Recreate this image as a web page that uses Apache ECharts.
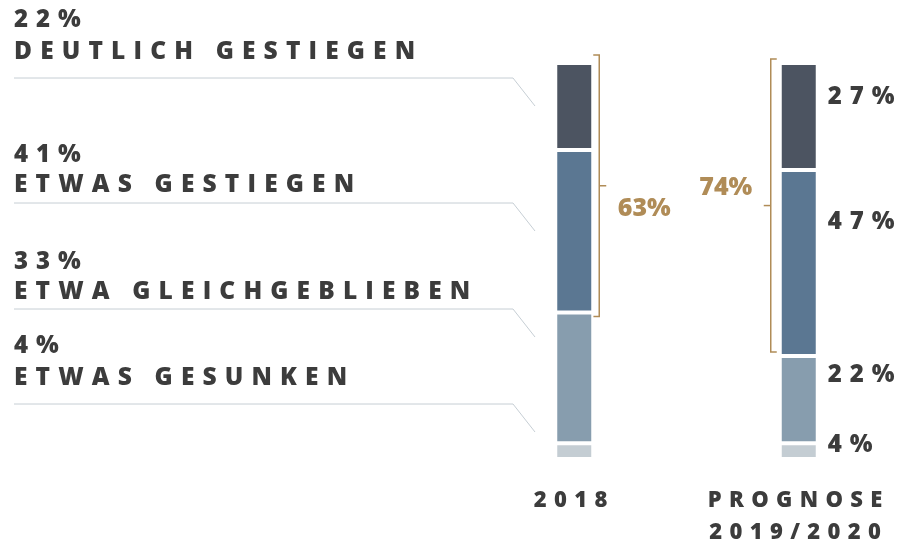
<!DOCTYPE html>
<html>
<head>
    <meta charset="utf-8">
    <title>Umsatzentwicklung</title>
    <script src="https://cdn.jsdelivr.net/npm/echarts@6/dist/echarts.min.js"></script>
    <style>
        html, body { margin: 0; padding: 0; background: #fff; }
        #chart1 { width: 899px; height: 547px; }
    </style>
</head>
<body>
<div id="chart1"></div>
<script type="text/javascript">
    // Daten (von unten nach oben gestapelt)
    var categories = ['2018', 'PROGNOSE\n2019/2020'];
    var answers = ['ETWAS GESUNKEN', 'ETWA GLEICHGEBLIEBEN', 'ETWAS GESTIEGEN', 'DEUTLICH GESTIEGEN'];
    var shares2018 = [4, 33, 41, 22];
    var sharesPrognose = [4, 22, 47, 27];
    // Klammer um "gestiegen" (Wertebereich der Klammer auf der y-Achse)
    var bracketLow = [36, 27];
    var bracketHigh = [102, 101];

    var colors = ['#c4cdd3', '#879dae', '#5b7792', '#4c5461'];
    var textColor = '#3c3c3c';
    var gold = '#b08c57';
    var lineColor = '#c6ced4';
    var FONT = '"Open Sans", "Noto Sans", sans-serif';
    var SP = '\u2004';

    // Sperrschrift: Zeichen mit schmalem Leerraum trennen
    function spaced(s, trailing) {
        return s.split('\n').map(function (line) {
            return line.split('').join(SP) + (trailing ? SP : '');
        }).join('\n');
    }

    var myChart1 = echarts.init(document.getElementById('chart1'));

    // Beschriftung rechts der Prognose-Säule, vertikal leicht verschoben
    var labelNudge = [-6, -24, -41, -19];

    var barSeries = answers.map(function (name, i) {
        return {
            name: name,
            type: 'bar',
            stack: 'total',
            barWidth: 38,
            itemStyle: {
                color: colors[i],
                borderColor: '#fff',
                borderWidth: 2
            },
            label: {
                show: false,
                position: 'right',
                distance: 10,
                offset: [0, labelNudge[i]],
                color: textColor,
                fontFamily: FONT,
                fontWeight: 800,
                fontSize: 24,
                formatter: function (p) { return spaced(p.value + '%'); }
            },
            data: [
                { value: shares2018[i] },
                { value: sharesPrognose[i], label: { show: true } }
            ]
        };
    });

    var bracketData = categories.map(function (c, k) {
        var vals = k === 0 ? shares2018 : sharesPrognose;
        return [k, bracketLow[k], bracketHigh[k], vals[2] + vals[3]];
    });

    var bracketSeries = {
        type: 'custom',
        silent: true,
        encode: { x: 0, y: [1, 2] },
        data: bracketData,
        renderItem: function (params, api) {
            var k = api.value(0);
            var center = api.coord([k, 0]);
            var top = api.coord([k, api.value(2)])[1];
            var bot = api.coord([k, api.value(1)])[1];
            var mid = (top + bot) / 2;
            var side = k === 0 ? 1 : -1;
            var vx = center[0] + (k === 0 ? 25 : -28);
            return {
                type: 'group',
                children: [
                    {
                        type: 'polyline',
                        shape: { points: [[vx - side * 6, top], [vx, top], [vx, bot], [vx - side * 6, bot]] },
                        style: { stroke: gold, lineWidth: 1.5, fill: null }
                    },
                    {
                        type: 'line',
                        shape: { x1: vx, y1: mid, x2: vx + side * 7, y2: mid },
                        style: { stroke: gold, lineWidth: 1.5 }
                    },
                    {
                        type: 'text',
                        x: vx + side * 45,
                        y: mid + (k === 0 ? 23 : -18),
                        style: {
                            text: api.value(3) + '%',
                            fill: gold,
                            font: '800 25px ' + FONT,
                            align: 'center',
                            verticalAlign: 'middle'
                        }
                    }
                ]
            };
        }
    };

    // linke Legende mit Führungslinien (oben nach unten)
    var pctY = [20, 155, 262, 346];
    var lblY = [52, 185, 292, 378];
    var lineY = [78, 203, 309, 404];
    var graphics = [];
    for (var j = 0; j < 4; j++) {
        var idx = 3 - j;
        graphics.push({
            type: 'text', x: 14, y: pctY[j],
            style: { text: spaced(shares2018[idx] + '%'), fill: textColor, font: '800 24px ' + FONT, verticalAlign: 'middle' }
        });
        graphics.push({
            type: 'text', x: 14, y: lblY[j],
            style: { text: spaced(answers[idx]), fill: textColor, font: '800 24.5px ' + FONT, verticalAlign: 'middle' }
        });
        graphics.push({
            type: 'polyline',
            shape: { points: [[14, lineY[j]], [513, lineY[j]], [535, lineY[j] + 28]] },
            style: { stroke: lineColor, lineWidth: 1, fill: null }
        });
    }

    myChart1.setOption({
        animation: false,
        grid: { left: 462, width: 449, top: 63, bottom: 88, outerBoundsMode: 'none' },
        xAxis: {
            type: 'category',
            data: categories,
            axisLine: { show: false },
            axisTick: { show: false },
            axisLabel: {
                interval: 0,
                hideOverlap: false,
                margin: 26,
                color: textColor,
                fontFamily: FONT,
                fontWeight: 800,
                fontSize: 22,
                lineHeight: 32,
                formatter: function (v) { return spaced(v, true); }
            }
        },
        yAxis: {
            type: 'value',
            min: 0,
            max: 100,
            show: false
        },
        graphic: graphics,
        series: barSeries.concat([bracketSeries])
    });
</script>
</body>
</html>
